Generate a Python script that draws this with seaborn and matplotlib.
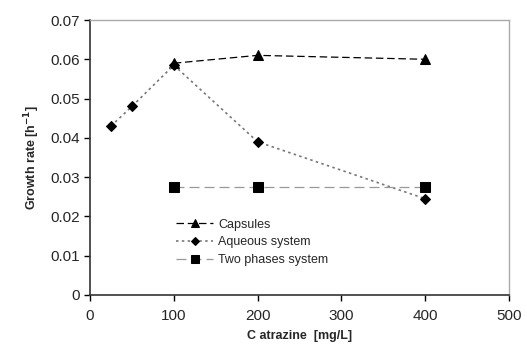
import matplotlib
matplotlib.use("Agg")
import matplotlib.pyplot as plt
import seaborn as sns
import pandas as pd

caps_x = [100, 200, 400]
caps_y = [0.059, 0.061, 0.060]
aq_x = [25, 50, 100, 200, 400]
aq_y = [0.043, 0.048, 0.0585, 0.039, 0.0245]
two_x = [100, 200, 400]
two_y = [0.0275, 0.0275, 0.0275]

sns.set_style("ticks")
plt.rcParams['font.family'] = ['Liberation Sans', 'DejaVu Sans']

fig = plt.figure(figsize=(5.27, 3.54), dpi=100)
ax = fig.add_axes([90/527, 1-295/354, 419/527, 275/354])

sns.lineplot(x=caps_x, y=caps_y, ax=ax, color='black', linestyle=(0, (6, 3)), lw=0.9,
             marker='^', markersize=6.5, markeredgecolor='black', markerfacecolor='black',
             label='Capsules')
sns.lineplot(x=aq_x, y=aq_y, ax=ax, color='#777777', linestyle=(0, (1.5, 2)), lw=1.2,
             marker='D', markersize=5, markeredgecolor='black', markerfacecolor='black',
             label='Aqueous system')
sns.lineplot(x=two_x, y=two_y, ax=ax, color='#999999', linestyle=(0, (8, 4)), lw=0.9,
             marker='s', markersize=7, markeredgecolor='black', markerfacecolor='black',
             label='Two phases system')

ax.set_xlim(0, 500)
ax.set_ylim(0, 0.07)
ax.set_xticks([0, 100, 200, 300, 400, 500])
ax.set_yticks([0, 0.01, 0.02, 0.03, 0.04, 0.05, 0.06, 0.07])
ax.set_yticklabels(['0', '0.01', '0.02', '0.03', '0.04', '0.05', '0.06', '0.07'])
ax.tick_params(axis='both', labelsize=11, direction='out', length=4, width=1, color='black')
ax.tick_params(axis='x', pad=6)
for s in ['left', 'bottom']:
    ax.spines[s].set_color('#333333')
    ax.spines[s].set_linewidth(1.2)
for s in ['top', 'right']:
    ax.spines[s].set_visible(True)
    ax.spines[s].set_color('#aaaaaa')
    ax.spines[s].set_linewidth(1)

ax.set_xlabel('C atrazine  [mg/L]', fontsize=9, fontweight='bold', labelpad=5)
ax.set_ylabel('Growth rate [h$^{\\mathbf{-1}}$]', fontsize=9, fontweight='bold', labelpad=6)

leg = ax.legend(loc='upper left', bbox_to_anchor=(0.19, 0.30), frameon=False, fontsize=9,
                handlelength=3.0, handletextpad=0.4, labelspacing=0.45, borderpad=0,
                markerscale=0.85)

fig.savefig('out.png', dpi=100)
